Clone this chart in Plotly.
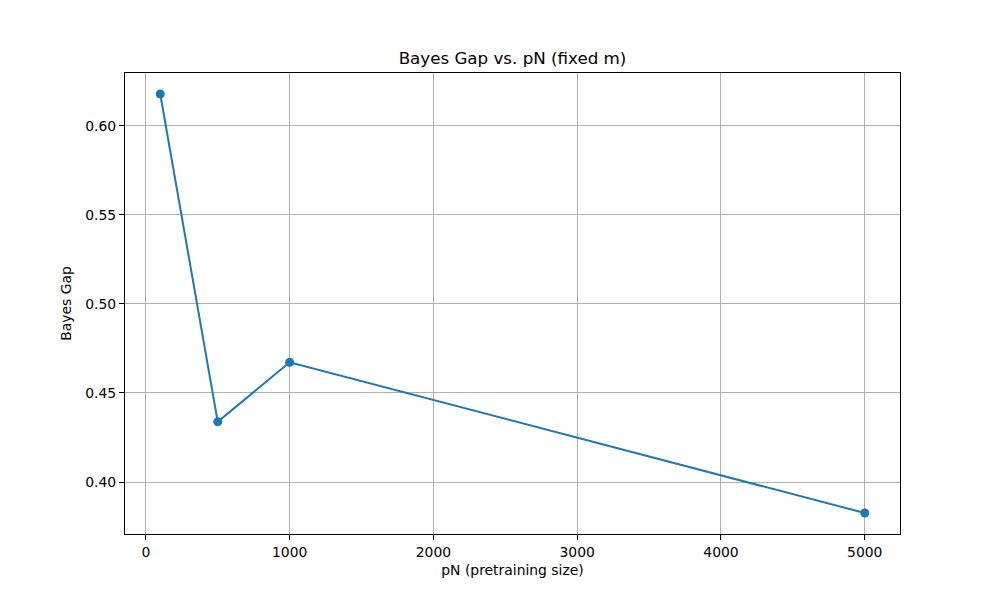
import plotly.graph_objects as go

pN = [100, 500, 1000, 5000]
bayes_gap = [0.6179, 0.4338, 0.4672, 0.3826]
x_ticks = [0, 1000, 2000, 3000, 4000, 5000]
y_ticks = [0.40, 0.45, 0.50, 0.55, 0.60]

fig = go.Figure()
fig.add_trace(go.Scatter(
    x=pN, y=bayes_gap, mode="lines+markers",
    line=dict(color="#1f77b4", width=2),
    marker=dict(color="#1f77b4", size=9),
    showlegend=False,
))

axis_common = dict(
    showline=True, linecolor="black", linewidth=1, mirror=True,
    showgrid=True, gridcolor="#b0b0b0", gridwidth=1,
    ticks="outside", ticklen=5, tickwidth=1, tickcolor="black",
    zeroline=False,
    tickfont=dict(family="DejaVu Sans", size=13.9, color="black"),
)

fig.update_layout(
    width=1000, height=600,
    paper_bgcolor="white", plot_bgcolor="white",
    margin=dict(l=117, r=108, t=65, b=74),
    font=dict(family="DejaVu Sans", color="black"),
    title=dict(text="Bayes Gap vs. pN (fixed m)", x=0.5045, xanchor="center",
               y=1 - 50 / 600, yanchor="middle", font=dict(size=16.7)),
    xaxis=dict(range=[-145, 5245], tickvals=x_ticks,
               ticktext=[str(v) for v in x_ticks],
               title=dict(text="pN (pretraining size)", font=dict(size=13.9), standoff=6),
               **axis_common),
    yaxis=dict(range=[0.3708, 0.6297], tickvals=y_ticks,
               ticktext=[f"{v:.2f}" for v in y_ticks],
               title=dict(text="Bayes Gap", font=dict(size=13.9), standoff=10),
               **axis_common),
)

fig.write_html("out.html")
